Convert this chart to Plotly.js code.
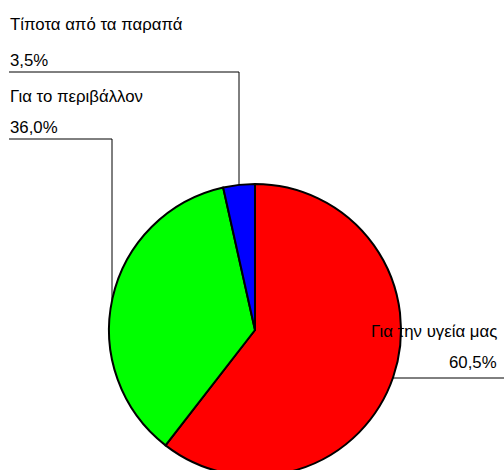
<!DOCTYPE html>
<html>
<head>
<meta charset="utf-8">
<script src="https://cdn.plot.ly/plotly-3.0.1.min.js"></script>
<style>
html,body{margin:0;padding:0;overflow:hidden;background:#fff;}
#chart{width:504px;height:490px;}
</style>
</head>
<body>
<div id="chart"></div>
<script>
const categories = ["Για την υγεία μας", "Για το περιβάλλον", "Τίποτα από τα παραπά"];
const values = [60.5, 36.0, 3.5];
const valueLabels = ["60,5%", "36,0%", "3,5%"];
const colors = ["#FF0000", "#00FF00", "#0000FF"];

const W = 504, H = 490;
const px = x => x / W;
const py = y => (H - y) / H;

const trace = {
  type: "pie",
  labels: categories,
  values: values,
  sort: false,
  direction: "clockwise",
  rotation: 0,
  textinfo: "none",
  hoverinfo: "label+percent",
  marker: {colors: colors, line: {color: "#000000", width: 2}},
  domain: {x: [px(109), px(401)], y: [py(476), py(184)]},
  showlegend: false
};

const font = {family: "Liberation Sans, Arial, sans-serif", size: 16.8, color: "#000"};
function ann(text, x, y, anchor) {
  return {text: text, x: px(x), y: py(y), xref: "paper", yref: "paper",
          xanchor: anchor, yanchor: "middle", showarrow: false, font: font};
}
const annotations = [
  ann(categories[2], 8, 25, "left"),
  ann(valueLabels[2], 8, 60, "left"),
  ann(categories[1], 8, 96, "left"),
  ann(valueLabels[1], 8, 127, "left"),
  ann(categories[0], 499, 331, "right"),
  ann(valueLabels[0], 499, 362, "right")
];

function seg(x0, y0, x1, y1) {
  return {type: "line", xref: "paper", yref: "paper",
          x0: px(x0), y0: py(y0), x1: px(x1), y1: py(y1),
          line: {color: "#000", width: 1}};
}
const shapes = [
  seg(9, 72, 239, 72), seg(239, 72, 239, 184),
  seg(9, 139, 112, 139), seg(112, 139, 112, 300),
  seg(393, 378, 504, 378)
];

Plotly.newPlot("chart", [trace], {
  width: W, height: H,
  margin: {l: 0, r: 0, t: 0, b: 0},
  paper_bgcolor: "#fff",
  annotations: annotations,
  shapes: shapes
}, {displayModeBar: false, staticPlot: true});
</script>
</body>
</html>
